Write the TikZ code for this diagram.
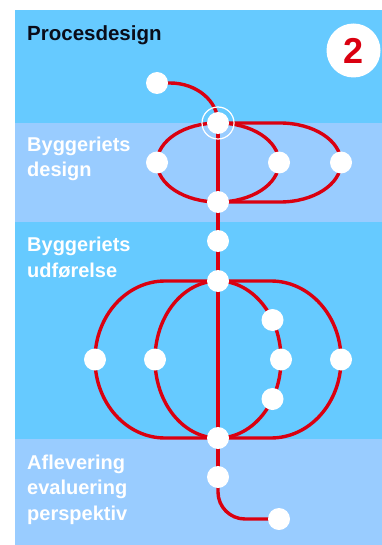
\documentclass[tikz,border=0pt]{standalone}
\usepackage{fontspec}
\setmainfont{Liberation Sans}
\usepackage{xcolor}
\usepackage{tikz}
\usetikzlibrary{positioning, calc}
\definecolor{skyband}{RGB}{102,202,255}
\definecolor{paleband}{RGB}{153,204,255}
\definecolor{metrored}{RGB}{218,0,16}
\definecolor{titleink}{RGB}{10,12,25}
\pgfdeclarelayer{bands}
\pgfdeclarelayer{tracks}
\pgfsetlayers{bands,tracks,main}
\tikzset{
  stop/.style={circle, fill=white, inner sep=0pt, minimum size=22pt},
  track/.style={draw=metrored, line width=3.4pt},
  phase/.style={anchor=base west, inner sep=0pt, align=left, text=white,
    font=\fontsize{20}{25.5}\selectfont\bfseries},
  badge/.style={circle, fill=white, inner sep=0pt, minimum size=54pt,
    text=metrored, font=\fontsize{36}{36}\selectfont\bfseries}
}

\begin{document}
\begin{tikzpicture}[x=1pt, y=1pt]
  \useasboundingbox (0,0) rectangle (382,-545);

  % Phase bands
  \begin{pgfonlayer}{bands}
    \fill[skyband] (15,-10) rectangle (382,-123);
    \fill[paleband] (15,-123) rectangle (382,-222);
    \fill[skyband] (15,-222) rectangle (382,-439);
    \fill[paleband] (15,-439) rectangle (382,-545);
  \end{pgfonlayer}

  % Titles
  \node[phase, text=titleink, font=\fontsize{20.5}{25}\selectfont\bfseries] (title) at (27,-40.5) {Procesdesign};
  \node[badge] (nr) at (353.5,-50.5) {2};
  \node[phase] (design) at (27,-177) {Byggeriets\\design};
  \node[phase] (udf) at (27,-277) {Byggeriets\\udførelse};
  \node[phase] (afl) at (27,-520) {Aflevering\\evaluering\\perspektiv};

  % Stops: procesdesign and design
  \node[stop] (start) at (157,-83) {};
  \node[stop] (hub) at (218,-123) {};
  \node[stop] (dl) at (157,-162.5) {};
  \node[stop] (dm) at (279,-162.5) {};
  \node[stop] (dr) at (341,-162.5) {};
  \node[stop] (db) at (218,-202) {};

  % Stops: udfoerelse
  \node[stop] (u0) at (218,-241) {};
  \node[stop] (ut) at (218,-281) {};
  \node[stop] (ul) at (95,-359.5) {};
  \node[stop] (uml) at (155,-359.5) {};
  \node[stop] (uhi) at (272.5,-320) {};
  \node[stop] (umr) at (281,-359.5) {};
  \node[stop] (ulo) at (272.5,-399) {};
  \node[stop] (ur) at (341,-359.5) {};
  \node[stop] (ub) at (218,-438) {};

  % Stops: aflevering
  \node[stop] (a1) at (218,-477) {};
  \node[stop] (a2) at (279,-519) {};

  \draw[white, line width=1.2pt] (hub) circle[radius=16pt];

  % Tracks
  \begin{pgfonlayer}{tracks}
    \draw[track] (start.center) -- ++(13,0)
      arc[start angle=90, end angle=0, x radius=48pt, y radius=40pt];
    \draw[track] (hub.center) arc[start angle=90, end angle=450, x radius=61pt, y radius=39.5pt];
    \draw[track] (hub.center) -- ++(62,0)
      arc[start angle=90, end angle=-90, x radius=61pt, y radius=39.5pt] -- (db.center);
    \draw[track] (hub.center) -- (a1.center);
    \draw[track] (ut.center) arc[start angle=90, end angle=450, x radius=63pt, y radius=78.5pt];
    \draw[track] (ut.center) -- ++(-53,0)
      arc[start angle=90, end angle=270, x radius=70pt, y radius=78.5pt] -- (ub.center);
    \draw[track] (ut.center) -- ++(53,0)
      arc[start angle=90, end angle=-90, x radius=70pt, y radius=78.5pt] -- (ub.center);
    \draw[track] (a1.center) -- ++(0,-15)
      arc[start angle=180, end angle=270, radius=27pt] -- (a2.center);
  \end{pgfonlayer}
\end{tikzpicture}
\end{document}
